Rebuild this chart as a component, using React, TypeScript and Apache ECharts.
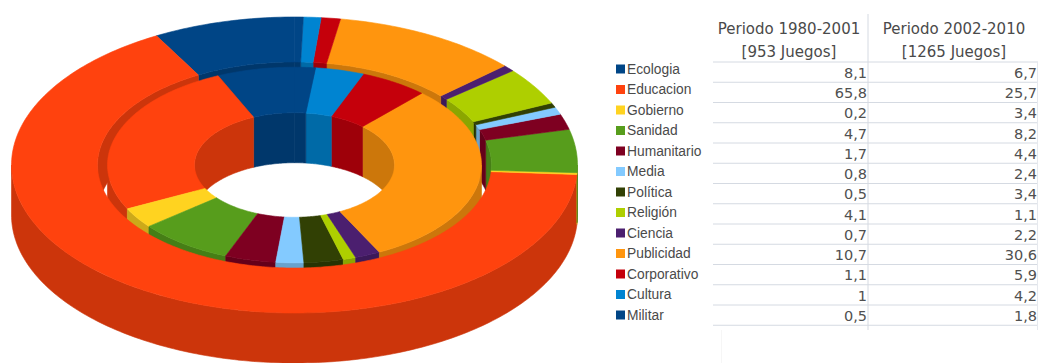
import React, { useEffect, useRef } from "react";
import * as echarts from "echarts";

const categories = ["Ecologia", "Educacion", "Gobierno", "Sanidad", "Humanitario", "Media", "Política", "Religión", "Ciencia", "Publicidad", "Corporativo", "Cultura", "Militar"];
const period1980 = [8.1, 65.8, 0.2, 4.7, 1.7, 0.8, 0.5, 4.1, 0.7, 10.7, 1.1, 1, 0.5];
const period2002 = [6.7, 25.7, 3.4, 8.2, 4.4, 2.4, 3.4, 1.1, 2.2, 30.6, 5.9, 4.2, 1.8];
const palette = ["#004586", "#ff420e", "#ffd320", "#579d1c", "#7e0021", "#83caff", "#314004", "#aecf00", "#4b1f6f", "#ff950e", "#c5000b", "#0084d1", "#004586"];
const headers = [["Periodo 1980-2001", "[953 Juegos]"], ["Periodo 2002-2010", "[1265 Juegos]"]];

// Projection of the flat rings: ellipse centre, vertical squash and extrusion height
const CX = 294.5;
const CY = 165;
const SQUASH = 0.523;
const DEPTH = 50;
const OUTER_RING = { outer: 283, inner: 197 };
const INNER_RING = { outer: 187, inner: 100 };

const darken = (hex: string, k = 0.8) => {
  const n = parseInt(hex.slice(1), 16);
  const c = [(n >> 16) & 255, (n >> 8) & 255, n & 255].map((v) => Math.round(v * k));
  return `rgb(${c[0]},${c[1]},${c[2]})`;
};

// Slice angles in degrees, counter-clockwise from twelve o'clock
const sliceAngles = (values: number[]) => {
  const total = values.reduce((a, b) => a + b, 0);
  let cum = 0;
  return values.map((v) => {
    const start = 90 + (cum / total) * 360;
    cum += v;
    return [start, 90 + (cum / total) * 360];
  });
};
const outerAngles = sliceAngles(period1980);
const innerAngles = sliceAngles(period2002);

const pt = (r: number, deg: number, drop = 0) => {
  const a = (deg * Math.PI) / 180;
  return [CX + r * Math.cos(a), CY - r * SQUASH * Math.sin(a) + drop];
};
const arc = (r: number, a: number, b: number, drop = 0) => {
  const n = Math.max(2, Math.ceil(Math.abs(b - a)));
  const out: number[][] = [];
  for (let i = 0; i <= n; i++) out.push(pt(r, a + ((b - a) * i) / n, drop));
  return out;
};

// Portions of [a, b] on the far (sin > 0) or near (sin < 0) half of the ellipse
const halves = (a: number, b: number, far: boolean) => {
  const bands = far ? [[0, 180], [360, 540]] : [[180, 360], [540, 720]];
  const out: number[][] = [];
  for (const [lo, hi] of bands) {
    const s = Math.max(a, lo);
    const e = Math.min(b, hi);
    if (e > s) out.push([s, e]);
  }
  return out;
};

const poly = (points: number[][], fill: string, z2: number) => ({
  type: "polygon",
  z2,
  shape: { points },
  style: { fill, stroke: fill, lineWidth: 0.6 },
});
const face = (ring: { outer: number; inner: number }, a: number, b: number, fill: string, z2: number) =>
  poly([...arc(ring.outer, a, b), ...arc(ring.inner, b, a)], fill, z2);
const wall = (r: number, a: number, b: number, fill: string, z2: number) =>
  poly([...arc(r, a, b), ...arc(r, b, a, DEPTH)], fill, z2);

// Each category paints its two slices; z2 stacks them from back to front across categories
const renderSlices = (index: number) => () => {
  const color = palette[index];
  const shade = darken(color);
  const [oa, ob] = outerAngles[index];
  const [ia, ib] = innerAngles[index];
  const children: any[] = [];
  halves(oa, ob, true).forEach(([s, e]) => children.push(wall(OUTER_RING.inner, s, e, shade, 1)));
  halves(ia, ib, true).forEach(([s, e]) => children.push(wall(INNER_RING.inner, s, e, shade, 2)));
  halves(ia, ib, false).forEach(([s, e]) => children.push(wall(INNER_RING.outer, s, e, shade, 3)));
  children.push(face(INNER_RING, ia, ib, color, 4));
  halves(oa, ob, false).forEach(([s, e]) => children.push(wall(OUTER_RING.outer, s, e, shade, 5)));
  children.push(face(OUTER_RING, oa, ob, color, 6));
  return { type: "group", children };
};

// Table at the right of the legend
const ROW_TOP = 62;
const ROW_H = 20.25;
const COL_RIGHT = [867, 1037];
const HEAD_X = [789, 954];
const LINE = "#d5dae2";
const cell = (v: number) => String(v).replace(".", ",");

const tableGraphics = () => {
  const els: any[] = [];
  for (let i = 0; i <= categories.length; i++) {
    const y = ROW_TOP + i * ROW_H;
    els.push({ type: "line", shape: { x1: 713, y1: y, x2: 1038, y2: y }, style: { stroke: LINE, lineWidth: 1 } });
  }
  els.push({ type: "line", shape: { x1: 868, y1: 14, x2: 868, y2: 330 }, style: { stroke: LINE, lineWidth: 1 } });
  els.push({ type: "line", shape: { x1: 1037.5, y1: 62, x2: 1037.5, y2: 330 }, style: { stroke: "#e6e9ee", lineWidth: 1 } });
  els.push({ type: "line", shape: { x1: 721.5, y1: 330, x2: 721.5, y2: 363 }, style: { stroke: "#f6f6f6", lineWidth: 1 } });
  headers.forEach((lines, c) =>
    lines.forEach((text, l) =>
      els.push({
        type: "text",
        x: HEAD_X[c],
        y: 29 + l * 22.5,
        style: { text, fill: "#4a4a4a", font: '15px "DejaVu Sans"', textAlign: "center", textVerticalAlign: "middle" },
      })
    )
  );
  [period1980, period2002].forEach((col, c) =>
    col.forEach((v, r) =>
      els.push({
        type: "text",
        x: COL_RIGHT[c],
        y: ROW_TOP + (r + 0.5) * ROW_H + 0.8,
        style: { text: cell(v), fill: "#505050", font: '14.5px "DejaVu Sans"', textAlign: "right", textVerticalAlign: "middle" },
      })
    )
  );
  return els;
};

export default function App() {
  const ref = useRef<HTMLDivElement>(null);
  useEffect(() => {
    const chart = echarts.init(ref.current!, undefined, { renderer: "svg" });
    chart.setOption({
      animation: false,
      backgroundColor: "#ffffff",
      legend: {
        orient: "vertical",
        left: 616,
        top: 62,
        padding: 0,
        itemWidth: 9,
        itemHeight: 9,
        itemGap: 6.5,
        icon: "rect",
        selectedMode: false,
        data: categories,
        textStyle: { fontFamily: '"Liberation Sans"', fontSize: 13.8, color: "#4a4a4a", padding: [0, 0, 0, -3] },
      },
      series: categories.map((name, i) => ({
        type: "custom",
        name,
        coordinateSystem: "none",
        silent: true,
        itemStyle: { color: palette[i] },
        renderItem: renderSlices(i),
        data: [[period1980[i], period2002[i]]],
      })),
      graphic: tableGraphics(),
    });
    return () => chart.dispose();
  }, []);
  return <div ref={ref} style={{ position: "fixed", left: 0, top: 0, width: 1038, height: 363 }} />;
}
